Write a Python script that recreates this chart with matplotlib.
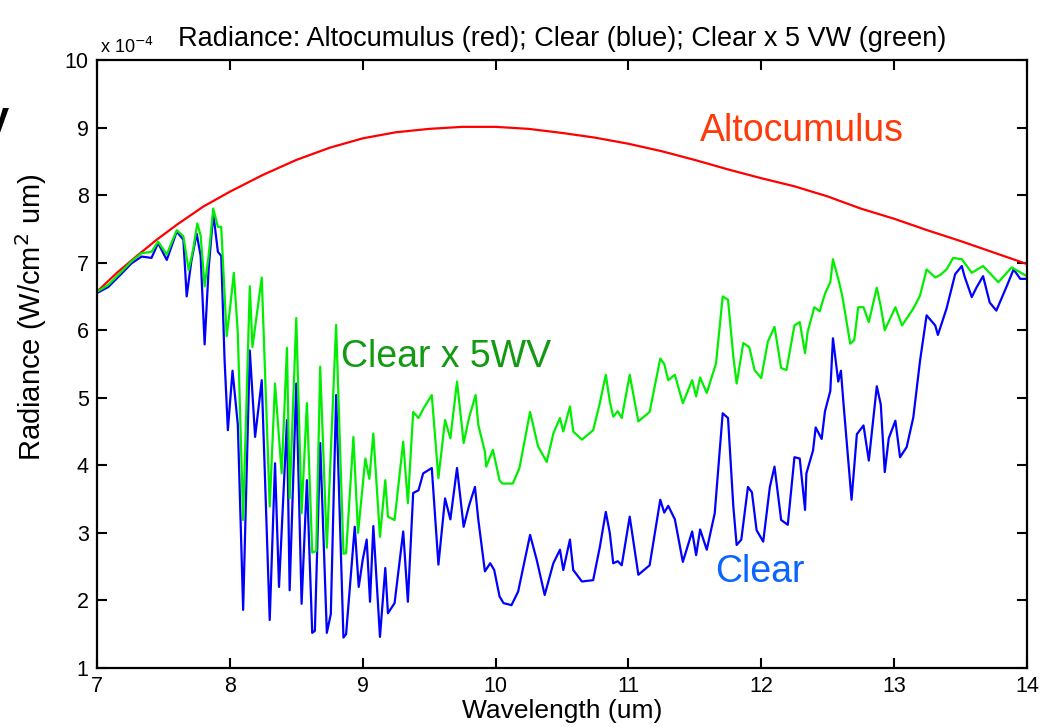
import matplotlib
matplotlib.use("Agg")
import matplotlib.pyplot as plt

plt.rcParams['font.family'] = ['Liberation Sans', 'DejaVu Sans']

# radiance values are in units of 1e-4 W/(cm^2 um)
red_wl = [7.0, 7.15, 7.3, 7.45, 7.6, 7.8, 8.0, 8.25, 8.5, 8.75, 9.0, 9.25, 9.5, 9.75,
          10.0, 10.25, 10.5, 10.75, 11.0, 11.25, 11.5, 11.75, 12.0, 12.25, 12.5,
          12.75, 13.0, 13.25, 13.5, 13.75, 14.0]
red_rad = [6.57, 6.85, 7.10, 7.34, 7.56, 7.83, 8.05, 8.30, 8.52, 8.70, 8.84, 8.93, 8.98,
           9.01, 9.01, 8.98, 8.92, 8.85, 8.76, 8.65, 8.52, 8.38, 8.25, 8.13, 7.98,
           7.80, 7.65, 7.48, 7.32, 7.15, 6.98]

green_wl = [7.0, 7.085, 7.186, 7.26, 7.336, 7.41, 7.46, 7.525, 7.60, 7.65, 7.69, 7.725,
            7.755, 7.78, 7.81, 7.84, 7.875, 7.91, 7.935, 7.976, 8.00, 8.03, 8.06, 8.10,
            8.15, 8.17, 8.24, 8.30, 8.34, 8.39, 8.43, 8.45, 8.50, 8.54, 8.58, 8.62,
            8.65, 8.68, 8.73, 8.80, 8.855, 8.875, 8.93, 8.965, 9.02, 9.05, 9.08, 9.13,
            9.17, 9.19, 9.24, 9.305, 9.34, 9.38, 9.42, 9.46, 9.52, 9.57, 9.62, 9.66,
            9.71, 9.76, 9.80, 9.85, 9.87, 9.92, 9.93, 9.98, 10.03, 10.05, 10.13, 10.18,
            10.26, 10.32, 10.385, 10.435, 10.485, 10.51, 10.56, 10.585, 10.65, 10.735,
            10.785, 10.83, 10.86, 10.886, 10.92, 10.95, 11.01, 11.075, 11.16, 11.24,
            11.27, 11.30, 11.35, 11.41, 11.48, 11.51, 11.54, 11.59, 11.66, 11.71, 11.75,
            11.79, 11.815, 11.865, 11.91, 11.95, 12.0, 12.05, 12.10, 12.15, 12.19, 12.25,
            12.29, 12.33, 12.35, 12.40, 12.44, 12.48, 12.52, 12.54, 12.58, 12.61, 12.67,
            12.70, 12.73, 12.77, 12.81, 12.87, 12.90, 12.93, 13.01, 13.06, 13.145, 13.195,
            13.245, 13.31, 13.35, 13.395, 13.445, 13.51, 13.585, 13.67, 13.785, 13.885, 14.0]
green_rad = [6.57, 6.67, 6.87, 7.02, 7.14, 7.16, 7.31, 7.12, 7.48, 7.39, 6.89, 7.21,
             7.58, 7.40, 6.65, 7.10, 7.80, 7.53, 7.53, 5.91, 6.30, 6.85, 5.95, 3.19,
             6.65, 5.75, 6.78, 3.39, 5.21, 3.88, 5.74, 3.51, 6.18, 3.29, 4.92, 2.71,
             2.73, 5.46, 2.78, 6.08, 2.69, 2.70, 4.42, 3.00, 4.10, 3.80, 4.47, 2.94,
             3.78, 3.24, 3.19, 4.35, 3.44, 4.79, 4.70, 4.85, 5.04, 3.81, 4.67, 4.40,
             5.24, 4.33, 4.70, 5.04, 4.60, 4.20, 3.98, 4.23, 3.78, 3.73, 3.73, 3.96,
             4.79, 4.28, 4.05, 4.47, 4.70, 4.50, 4.87, 4.50, 4.38, 4.52,
             4.92, 5.34, 4.95, 4.72, 4.80, 4.70, 5.34, 4.65, 4.79, 5.58,
             5.50, 5.26, 5.34, 4.92, 5.26, 5.02, 5.30, 5.07, 5.51, 6.50, 6.45,
             5.61, 5.21, 5.81, 5.75, 5.41, 5.29, 5.83, 6.05, 5.44, 5.41, 6.07,
             6.12, 5.66, 5.98, 6.34, 6.28, 6.54, 6.71, 7.05, 6.76, 6.51, 5.80,
             5.85, 6.34, 6.34, 6.12, 6.63, 6.35, 6.00, 6.34, 6.07, 6.32, 6.51,
             6.90, 6.78, 6.82, 6.90, 7.07, 7.05, 6.85, 6.95, 6.71, 6.93, 6.80]

blue_wl = [7.0, 7.085, 7.186, 7.26, 7.336, 7.41, 7.46, 7.525, 7.60, 7.65, 7.675, 7.71,
           7.75, 7.78, 7.81, 7.84, 7.875, 7.91, 7.935, 7.96, 7.985, 8.02, 8.06, 8.10,
           8.15, 8.19, 8.24, 8.30, 8.34, 8.37, 8.43, 8.45, 8.50, 8.54, 8.58, 8.62,
           8.64, 8.68, 8.73, 8.76, 8.80, 8.855, 8.875, 8.94, 8.97, 9.00, 9.03, 9.055,
           9.08, 9.13, 9.17, 9.19, 9.24, 9.305, 9.34, 9.38, 9.42, 9.455, 9.52, 9.57,
           9.62, 9.66, 9.71, 9.76, 9.80, 9.845, 9.87, 9.92, 9.96, 9.99, 10.03, 10.06,
           10.12, 10.17, 10.26, 10.31, 10.37, 10.435, 10.485, 10.51, 10.56, 10.585,
           10.65, 10.735, 10.785, 10.83, 10.86, 10.886, 10.92, 10.95, 11.01, 11.075,
           11.16, 11.24, 11.27, 11.30, 11.35, 11.41, 11.48, 11.51, 11.54, 11.59, 11.65,
           11.71, 11.75, 11.79, 11.815, 11.85, 11.90, 11.93, 11.965, 12.015, 12.065,
           12.10, 12.15, 12.20, 12.25, 12.29, 12.33, 12.34, 12.39, 12.41, 12.455, 12.48,
           12.52, 12.54, 12.58, 12.60, 12.62, 12.68, 12.72, 12.77, 12.81, 12.87, 12.90,
           12.93, 12.96, 13.01, 13.045, 13.095, 13.145, 13.195, 13.245, 13.31, 13.33,
           13.37, 13.395, 13.46, 13.51, 13.53, 13.585, 13.62, 13.67, 13.72, 13.77,
           13.85, 13.90, 13.95, 14.0]
blue_rad = [6.55, 6.64, 6.84, 6.99, 7.09, 7.07, 7.29, 7.04, 7.46, 7.34, 6.50, 7.02,
            7.43, 7.10, 5.79, 6.90, 7.73, 7.16, 7.10, 5.57, 4.52, 5.40, 4.60, 1.86,
            5.70, 4.42, 5.26, 1.71, 4.03, 2.20, 4.67, 2.15, 5.21, 1.95, 3.78, 1.52,
            1.55, 4.33, 1.52, 1.80, 5.04, 1.45, 1.50, 3.09, 2.20, 2.60, 2.90, 1.98,
            3.10, 1.46, 2.48, 1.81, 1.96, 3.02, 1.98, 3.59, 3.63, 3.88, 3.96, 2.53,
            3.51, 3.20, 3.96, 3.09, 3.40, 3.68, 3.20, 2.43, 2.55, 2.45, 2.06, 1.96,
            1.93, 2.13, 2.97, 2.60, 2.08, 2.55, 2.75, 2.45, 2.90, 2.45,
            2.28, 2.30, 2.79, 3.31, 3.00, 2.55, 2.58, 2.52, 3.24, 2.38,
            2.52, 3.49, 3.30, 3.40, 3.20, 2.57, 3.02, 2.67, 3.05, 2.75, 3.29,
            4.77, 4.70, 3.39, 2.82, 2.90, 3.68, 3.60, 3.04, 2.87, 3.68,
            3.98, 3.19, 3.12, 4.12, 4.10, 3.34, 3.88, 4.22, 4.56, 4.39, 4.80,
            5.10, 5.88, 5.24, 5.40, 4.90, 3.49, 4.46, 4.59, 4.07, 5.17, 4.90,
            3.90, 4.40, 4.66, 4.12, 4.27, 4.71, 5.54, 6.22, 6.07, 5.93,
            6.17, 6.32, 6.83, 6.95, 6.80, 6.49, 6.63, 6.80, 6.41, 6.29,
            6.66, 6.90, 6.76, 6.76]

x_ticks = [7, 8, 9, 10, 11, 12, 13, 14]
y_ticks = [1, 2, 3, 4, 5, 6, 7, 8, 9, 10]

fig = plt.figure(figsize=(10.5, 7.27), dpi=100)
ax = fig.add_axes([0.0924, 0.0812, 0.8856, 0.8363])

ax.plot(red_wl, red_rad, color='#ff0000', lw=1.6)
ax.plot(blue_wl, blue_rad, color='#0000ff', lw=1.6)
ax.plot(green_wl, green_rad, color='#00ee00', lw=1.6)

ax.set_xlim(7, 14)
ax.set_ylim(1, 10)
ax.set_xticks(x_ticks)
ax.set_yticks(y_ticks)
ax.tick_params(direction='in', length=7, width=1.5, labelsize=15.5,
               top=True, right=True, pad=6)
for s in ax.spines.values():
    s.set_linewidth(1.6)

ax.set_xlabel('Wavelength (um)', fontsize=19, labelpad=1)
ax.set_ylabel('Radiance (W/cm$^2$ um)', fontsize=21)
ax.yaxis.set_label_coords(-0.052, 0.577)
ax.set_title('Radiance: Altocumulus (red); Clear (blue); Clear x 5 VW (green)',
             fontsize=19.5, pad=10)

ax.text(7.02, 10.05, 'x 10$^{-4}$', fontsize=13, va='bottom', ha='left')

ax.text(11.54, 8.95, 'Altocumulus', color='#ff3a0a', fontsize=27, va='center', ha='left')
ax.text(8.84, 5.6, 'Clear x 5WV', color='#129a12', fontsize=27, va='center', ha='left')
ax.text(11.65, 2.42, 'Clear', color='#0a64ff', fontsize=27, va='center', ha='left')

fig.text(0.008, 0.835, 'y', fontsize=30, fontweight='bold', ha='right', va='center')

fig.savefig('out.png', dpi=100)
